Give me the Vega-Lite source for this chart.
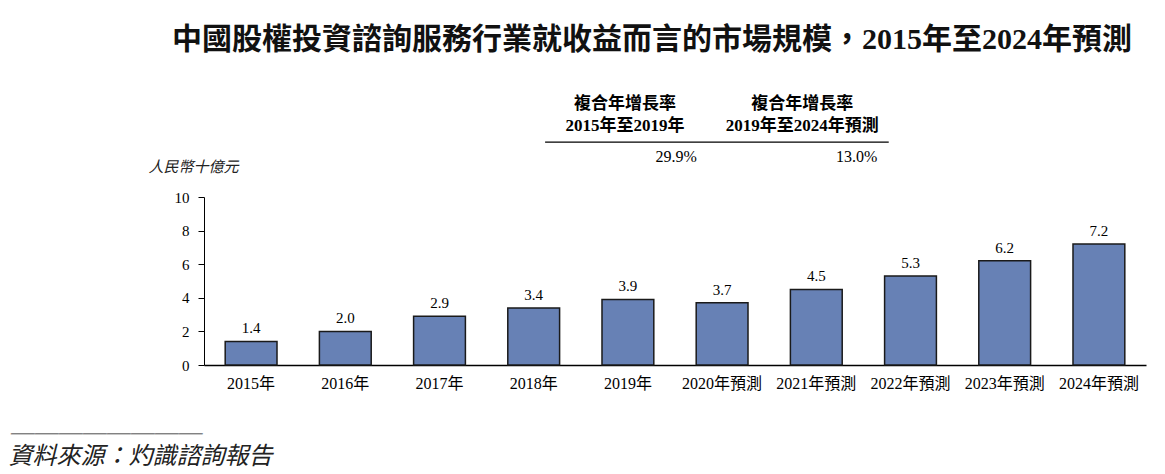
{
  "$schema": "https://vega.github.io/schema/vega-lite/v6.json",
  "width": 942,
  "height": 168,
  "autosize": {"type": "none"},
  "padding": {"left": 204, "top": 197, "right": 19, "bottom": 109},
  "background": "white",
  "config": {
    "view": {"stroke": null},
    "font": "Liberation Serif, Noto Sans CJK TC",
    "axisY": {"labelOverlap": false, "labelFlush": false, "tickCount": 6, "values": [0, 2, 4, 6, 8, 10]}
  },
  "title": {
    "text": "中國股權投資諮詢服務行業就收益而言的市場規模，2015年至2024年預測",
    "anchor": "start",
    "dx": 164,
    "fontSize": 30,
    "fontWeight": "bold",
    "font": "Liberation Serif, Noto Sans CJK TC",
    "color": "#111111",
    "offset": 40
  },
  "data": {
    "values": [
      {"year": "2015年", "value": 1.4},
      {"year": "2016年", "value": 2.0},
      {"year": "2017年", "value": 2.9},
      {"year": "2018年", "value": 3.4},
      {"year": "2019年", "value": 3.9},
      {"year": "2020年預測", "value": 3.7},
      {"year": "2021年預測", "value": 4.5},
      {"year": "2022年預測", "value": 5.3},
      {"year": "2023年預測", "value": 6.2},
      {"year": "2024年預測", "value": 7.2}
    ]
  },
  "layer": [
    {
      "mark": {"type": "bar", "fill": "#6781B5", "stroke": "#1a1a1a", "strokeWidth": 1.5},
      "encoding": {
        "x": {
          "field": "year", "type": "nominal", "sort": null,
          "scale": {"paddingInner": 0.45, "paddingOuter": 0.225},
          "axis": {
            "title": ["────────", "資料來源：灼識諮詢報告"],
            "titleX": -196, "titleY": 58,
            "titleAlign": "left", "titleBaseline": "top",
            "titleFontStyle": "italic", "titleFont": "Noto Sans CJK TC",
            "titleFontSize": 24, "titleFontWeight": "normal", "titleColor": "#222222",
            "titleLineHeight": 21,
            "labelAngle": 0, "labelFontSize": 16, "labelColor": "#000000", "labelPadding": 10,
            "ticks": false, "domainColor": "#000000", "domainWidth": 1.5
          }
        },
        "y": {
          "field": "value", "type": "quantitative",
          "scale": {"domain": [0, 10], "nice": false},
          "axis": {
            "values": [0, 2, 4, 6, 8, 10],
            "title": "人民幣十億元",
            "titleAngle": 0, "titleX": -56, "titleY": -31,
            "titleAlign": "left", "titleBaseline": "middle",
            "titleFontStyle": "italic", "titleFont": "Noto Sans CJK TC",
            "titleFontSize": 15, "titleFontWeight": "normal", "titleColor": "#222222",
            "grid": false, "tickSize": 6, "tickColor": "#000000", "domainColor": "#000000",
            "labelFontSize": 15, "labelPadding": 9, "labelColor": "#000000",
            "labelOverlap": false, "labelFlush": false
          }
        }
      }
    },
    {
      "mark": {"type": "text", "baseline": "bottom", "dy": -5, "fontSize": 15, "color": "#000000"},
      "encoding": {
        "x": {"field": "year", "type": "nominal", "sort": null},
        "y": {"field": "value", "type": "quantitative"},
        "text": {"field": "value", "type": "quantitative", "format": ".1f"}
      }
    },
    {
      "data": {"values": [{"period": "2015年至2019年", "cagr": "29.9%"}]},
      "layer": [
        {
          "mark": {"type": "text", "fontWeight": "bold", "fontSize": 17, "dx": -3, "baseline": "middle", "color": "#000000"},
          "encoding": {"x": {"datum": "2019年"}, "y": {"datum": 15.55}, "text": {"value": "複合年增長率"}}
        },
        {
          "mark": {"type": "text", "fontWeight": "bold", "fontSize": 17, "dx": -3, "baseline": "middle", "color": "#000000"},
          "encoding": {"x": {"datum": "2019年"}, "y": {"datum": 14.25}, "text": {"field": "period"}}
        },
        {
          "mark": {"type": "text", "fontSize": 16, "dx": 69, "align": "right", "baseline": "middle", "color": "#000000"},
          "encoding": {"x": {"datum": "2019年"}, "y": {"datum": 12.38}, "text": {"field": "cagr"}}
        }
      ]
    },
    {
      "data": {"values": [{"period": "2019年至2024年預測", "cagr": "13.0%"}]},
      "layer": [
        {
          "mark": {"type": "text", "fontWeight": "bold", "fontSize": 17, "dx": -14, "baseline": "middle", "color": "#000000"},
          "encoding": {"x": {"datum": "2021年預測"}, "y": {"datum": 15.55}, "text": {"value": "複合年增長率"}}
        },
        {
          "mark": {"type": "text", "fontWeight": "bold", "fontSize": 17, "dx": -14, "baseline": "middle", "color": "#000000"},
          "encoding": {"x": {"datum": "2021年預測"}, "y": {"datum": 14.25}, "text": {"field": "period"}}
        },
        {
          "mark": {"type": "text", "fontSize": 16, "dx": 61, "align": "right", "baseline": "middle", "color": "#000000"},
          "encoding": {"x": {"datum": "2021年預測"}, "y": {"datum": 12.38}, "text": {"field": "cagr"}}
        }
      ]
    },
    {
      "data": {"values": [{"from": "2018年", "to": "2022年預測"}]},
      "mark": {"type": "rule", "color": "#000000", "strokeWidth": 1.2},
      "encoding": {
        "x": {"field": "from", "type": "nominal", "bandPosition": 0.72},
        "x2": {"field": "to", "bandPosition": 0.08},
        "y": {"datum": 13.27}
      }
    }
  ]
}
